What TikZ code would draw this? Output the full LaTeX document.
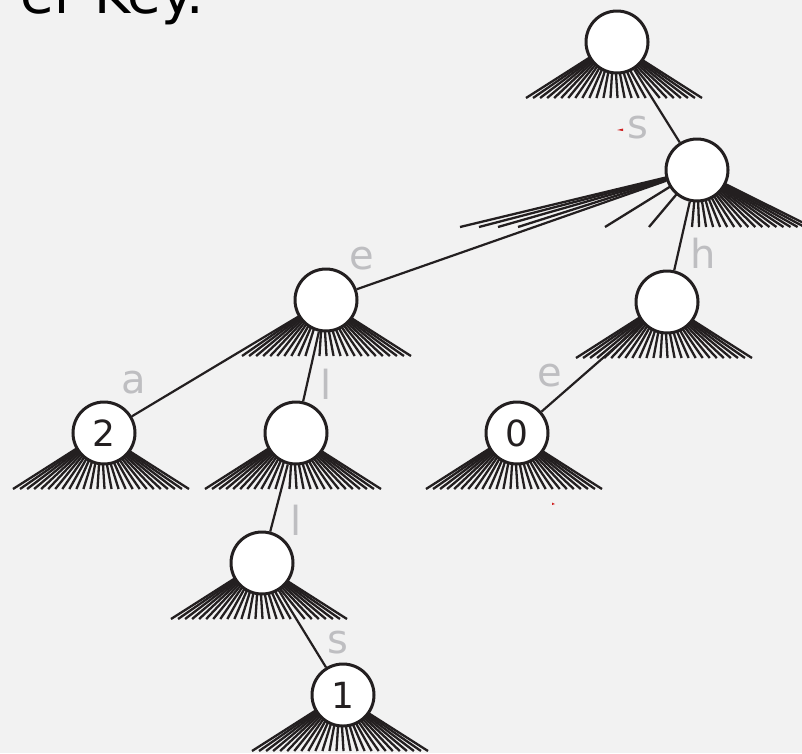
\documentclass[tikz,border=0pt]{standalone}
\usepackage{fontspec}
\setmainfont{DejaVu Sans}
\definecolor{bg}{HTML}{F2F2F2}
\definecolor{ink}{HTML}{231F20}
\definecolor{lab}{HTML}{BEBEC1}
\definecolor{spot}{HTML}{D02020}
\newcommand\rfan[4]{%
  \foreach \i in {0,...,25}{%
    \ifnum\i=#3\relax\else\ifnum\i=#4\relax\else
      \draw[fanline] (#1-3,#2) -- ({#1-91+\i*7.04},{#2+56});
    \fi\fi}}
\begin{document}
\begin{tikzpicture}[x=1pt,y=-1pt,
  fanline/.style={ink,line width=2.3pt},
  link/.style={ink,line width=2.2pt},
  trienode/.style={circle,draw=ink,fill=white,line width=3pt,minimum size=62pt,inner sep=0pt,
    font=\fontsize{36}{40}\selectfont,text=ink},
  lbl/.style={text=lab,inner sep=0pt,font=\fontsize{40}{44}\selectfont}]
\useasboundingbox (0,0) rectangle (802,753);
\fill[bg] (0,0) rectangle (802,753);
\begin{scope}
\clip (0,0) rectangle (802,753);
% title fragment
\node[anchor=base east,inner sep=0pt,font=\fontsize{55}{60}\selectfont,text=black] (title) at (204,13) {er Key.};
% fans
\rfan{617}{42}{18}{-1}
\foreach \x in {460,479,498,518,605,649} \draw[fanline] (697,170) -- (\x,227);
\foreach \k in {0,...,17} \draw[fanline] (697,170) -- ({692+\k*7.04},227);
\rfan{326}{300}{0}{11}
\rfan{667}{302}{-1}{-1}
\rfan{104}{433}{-1}{-1}
\rfan{296}{433}{11}{-1}
\rfan{517}{433}{-1}{-1}
\rfan{262}{563}{18}{-1}
\rfan{343}{695}{-1}{-1}
% nodes
\node[trienode] (R) at (617,42) {};
\node[trienode] (S) at (697,170) {};
\node[trienode] (E) at (326,300) {};
\node[trienode] (H) at (667,302) {};
\node[trienode] (A) at (104,433) {2};
\node[trienode] (L1) at (296,433) {};
\node[trienode] (O) at (517,433) {0};
\node[trienode] (L2) at (262,563) {};
\node[trienode] (N1) at (343,695) {1};
% links
\draw[link] (R) -- (S);
\draw[link] (S) -- (E);
\draw[link] (S) -- (H);
\draw[link] (E) -- (A);
\draw[link] (E) -- (L1);
\draw[link] (L1) -- (L2);
\draw[link] (L2) -- (N1);
\draw[link] (H) -- (O);
% labels
\node[lbl] (ls) at (638,128) {s};
\node[lbl] (le) at (362,259) {e};
\node[lbl] (lh) at (703,253) {h};
\node[lbl] (la) at (134,383) {a};
\node[lbl] (ll1) at (326,384) {l};
\node[lbl] (le2) at (550,376) {e};
\node[lbl] (ll2) at (296,520) {l};
\node[lbl] (ls2) at (338,643) {s};
% small red specks
\fill[spot] (617,130) -- (623,128.5) -- (623,131) -- cycle;
\fill[spot] (552,502.5) -- (555,504) -- (552,505) -- cycle;
\end{scope}
\end{tikzpicture}
\end{document}
